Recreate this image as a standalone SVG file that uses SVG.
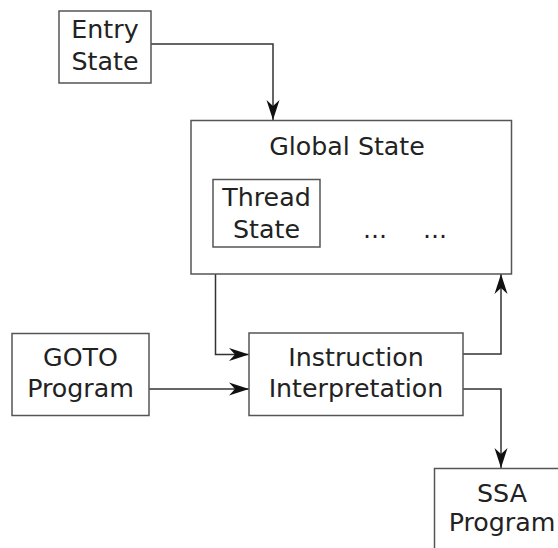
<svg xmlns="http://www.w3.org/2000/svg" width="558" height="548" viewBox="0 0 558 548">
<style>
.box{fill:#fff;stroke:#555;stroke-width:1.5}
.t{font-family:"DejaVu Sans",sans-serif;font-size:25.3px;fill:#222;text-anchor:middle}
.c{fill:none;stroke:#333;stroke-width:1.5}
</style>
<defs>
<marker id="ah" markerUnits="userSpaceOnUse" viewBox="-22 -8 24 16" refX="0" refY="0" markerWidth="24" markerHeight="16" orient="auto">
<path d="M0,0 L-20,-6.5 L-14,0 L-20,6.5 Z" fill="#111"/>
</marker>
</defs>
<rect width="558" height="548" fill="#fff"/>
<g id="connectors">
<path class="c" d="M151,44 H273 V120" marker-end="url(#ah)"/>
<path class="c" d="M215.5,274 V354.5 H249" marker-end="url(#ah)"/>
<path class="c" d="M149,389 H249" marker-end="url(#ah)"/>
<path class="c" d="M463,354 H501 V274" marker-end="url(#ah)"/>
<path class="c" d="M463,389 H501 V468" marker-end="url(#ah)"/>
</g>
<g id="entry-state">
<rect class="box" x="59" y="11" width="92" height="72"/>
<text class="t" x="105" y="37.5">Entry</text>
<text class="t" x="105" y="70">State</text>
</g>
<g id="global-state">
<rect class="box" x="191" y="120.5" width="320.5" height="153.5"/>
<text class="t" x="347" y="155">Global State</text>
<text class="t" x="375" y="238">...</text>
<text class="t" x="435" y="238">...</text>
</g>
<g id="thread-state">
<rect class="box" x="213" y="179.5" width="107" height="67.5"/>
<text class="t" x="266.5" y="206">Thread</text>
<text class="t" x="266.5" y="237.5">State</text>
</g>
<g id="goto-program">
<rect class="box" x="12" y="333.5" width="137" height="82"/>
<text class="t" x="80.5" y="365.5">GOTO</text>
<text class="t" x="80.5" y="396.5">Program</text>
</g>
<g id="instruction-interpretation">
<rect class="box" x="249" y="333" width="214" height="82.5"/>
<text class="t" x="356" y="365.5">Instruction</text>
<text class="t" x="356" y="396.5">Interpretation</text>
</g>
<g id="ssa-program">
<rect class="box" x="434.5" y="468.5" width="137" height="83"/>
<text class="t" x="502" y="501.5">SSA</text>
<text class="t" x="502" y="531">Program</text>
</g>
</svg>
